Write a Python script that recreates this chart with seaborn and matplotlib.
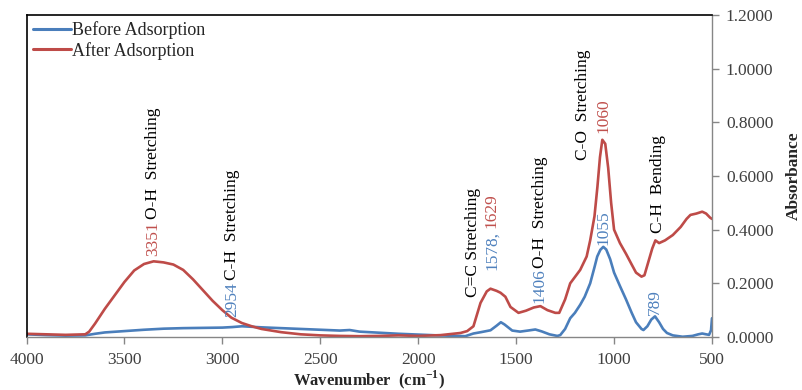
import matplotlib
matplotlib.use("Agg")
import matplotlib.pyplot as plt
import seaborn as sns
import pandas as pd
from matplotlib.ticker import FuncFormatter, FixedLocator

# ---------------- data ----------------
wn_before = [4000, 3900, 3800, 3700, 3650, 3600, 3500, 3400, 3300, 3200, 3100, 3000,
             2950, 2900, 2850, 2800, 2700, 2600, 2500, 2400, 2350, 2300, 2200, 2100,
             2000, 1900, 1800, 1760, 1718, 1680, 1631, 1600, 1578, 1560, 1520, 1480,
             1440, 1402, 1370, 1330, 1290, 1275, 1250, 1224, 1200, 1173, 1150, 1122,
             1100, 1086, 1070, 1055, 1040, 1020, 1000, 970, 939, 910, 888, 860, 850,
             830, 810, 791, 770, 750, 730, 700, 650, 600, 570, 550, 530, 515, 505, 500]
abs_before = [0.010, 0.007, 0.005, 0.006, 0.012, 0.017, 0.022, 0.027, 0.031, 0.033, 0.034, 0.035,
              0.037, 0.040, 0.038, 0.036, 0.033, 0.030, 0.027, 0.024, 0.026, 0.020, 0.016, 0.012,
              0.009, 0.006, 0.004, 0.003, 0.013, 0.018, 0.025, 0.042, 0.055, 0.047, 0.024, 0.020,
              0.024, 0.028, 0.021, 0.010, 0.004, 0.007, 0.030, 0.070, 0.090, 0.120, 0.150, 0.200,
              0.260, 0.300, 0.325, 0.336, 0.326, 0.290, 0.240, 0.190, 0.140, 0.090, 0.055, 0.030, 0.026,
              0.040, 0.065, 0.077, 0.055, 0.030, 0.015, 0.006, 0.001, 0.004, 0.010, 0.013, 0.010, 0.008, 0.025, 0.070]

wn_after = [4000, 3900, 3800, 3700, 3680, 3650, 3600, 3550, 3500, 3450, 3400, 3351, 3300,
            3250, 3200, 3150, 3100, 3050, 3000, 2954, 2900, 2850, 2800, 2700, 2600, 2500,
            2400, 2300, 2200, 2100, 2000, 1886, 1784, 1750, 1718, 1682, 1650, 1631, 1600,
            1580, 1555, 1529, 1488, 1450, 1410, 1376, 1340, 1300, 1280, 1250, 1224, 1173,
            1140, 1122, 1100, 1085, 1072, 1060, 1045, 1030, 1015, 1000, 970, 939, 910, 888,
            860, 845, 825, 805, 789, 770, 740, 700, 660, 630, 610, 580, 550, 530, 510, 500]
abs_after = [0.012, 0.010, 0.008, 0.010, 0.020, 0.050, 0.105, 0.155, 0.205, 0.248, 0.272, 0.282, 0.278,
             0.270, 0.250, 0.215, 0.175, 0.135, 0.100, 0.072, 0.052, 0.040, 0.030, 0.018, 0.010, 0.006,
             0.004, 0.003, 0.004, 0.006, 0.004, 0.007, 0.015, 0.022, 0.040, 0.127, 0.170, 0.180, 0.172,
             0.165, 0.150, 0.112, 0.090, 0.098, 0.110, 0.115, 0.100, 0.090, 0.090, 0.140, 0.200, 0.250,
             0.300, 0.360, 0.450, 0.560, 0.670, 0.735, 0.720, 0.630, 0.500, 0.400, 0.350, 0.310, 0.270, 0.240,
             0.225, 0.230, 0.280, 0.330, 0.360, 0.350, 0.360, 0.380, 0.410, 0.440, 0.455, 0.460, 0.467, 0.460, 0.445, 0.440]

series_names = ["Before Adsorption", "After Adsorption"]
x_ticks = [4000, 3500, 3000, 2500, 2000, 1500, 1000, 500]
y_ticks = [0.0, 0.2, 0.4, 0.6, 0.8, 1.0, 1.2]

# annotations: (wavenumber, y bottom, text, colour-key)
annotations = [
    (3355, 0.302, "3351", "red"), (3355, 0.440, "O-H  Stretching", "black"),
    (2951, 0.075, "2954", "blue"), (2951, 0.214, "C-H  Stretching", "black"),
    (1721, 0.149, "C=C Stretching", "black"),
    (1624, 0.250, "1578,", "blue"), (1624, 0.408, "1629", "red"),
    (1379, 0.127, "1406", "blue"), (1379, 0.257, "O-H  Stretching", "black"),
    (1159, 0.660, "C-O  Stretching", "black"),
    (1052, 0.760, "1060", "red"),
    (1052, 0.343, "1055", "blue"),
    (776, 0.388, "C-H  Bending", "black"),
    (792, 0.082, "789", "blue"),
]

# ---------------- styling ----------------
sns.set_style("white")
plt.rcParams["font.family"] = ["Liberation Serif", "DejaVu Serif"]
plt.rcParams["mathtext.fontset"] = "custom"
plt.rcParams["mathtext.rm"] = "Liberation Serif"
plt.rcParams["mathtext.bf"] = "Liberation Serif:bold"

line_blue = "#4A7EBB"
line_red = "#BE4B48"
text_colors = {"red": "#C0504D", "blue": "#4F81BD", "black": "#000000"}
grey = "#868686"

df = pd.concat([
    pd.DataFrame({"Wavenumber": wn_before, "Absorbance": abs_before, "Series": series_names[0]}),
    pd.DataFrame({"Wavenumber": wn_after, "Absorbance": abs_after, "Series": series_names[1]}),
], ignore_index=True)

fig = plt.figure(figsize=(8.02, 3.90), dpi=100)
ax = fig.add_axes([26.5 / 802, 1 - 337 / 390, 685.5 / 802, 322 / 390])

sns.lineplot(data=df, x="Wavenumber", y="Absorbance", hue="Series",
             palette=[line_blue, line_red], hue_order=series_names,
             estimator=None, linewidth=1.9, ax=ax)

ax.set_xlim(4000, 500)
ax.set_ylim(0, 1.2)
ax.xaxis.set_major_locator(FixedLocator(x_ticks))
ax.yaxis.set_major_locator(FixedLocator(y_ticks))
ax.yaxis.set_major_formatter(FuncFormatter(lambda v, p: f"{v:.4f}"))
ax.yaxis.tick_right()
ax.yaxis.set_label_position("right")

ax.tick_params(axis="x", which="major", direction="out", length=5, width=1, color=grey,
               labelsize=12.5, labelcolor="#404040", pad=6, bottom=True)
ax.tick_params(axis="y", which="major", direction="out", length=5, width=1, color=grey,
               labelsize=12.5, labelcolor="#404040", pad=5, right=True, left=False)

for side in ["top", "left"]:
    ax.spines[side].set_color("black")
    ax.spines[side].set_linewidth(1.2)
for side in ["bottom", "right"]:
    ax.spines[side].set_color(grey)
    ax.spines[side].set_linewidth(1.0)
    ax.spines[side].set_visible(True)

ax.set_xlabel(r"Wavenumber  (cm$^{\mathbf{-1}}$)", fontsize=12, fontweight="bold", labelpad=0)
ax.set_ylabel("Absorbance", fontsize=12.5, fontweight="bold", labelpad=9)

for xw, yb, txt, ck in annotations:
    ax.text(xw, yb, txt, rotation=90, ha="center", va="bottom",
            fontsize=12.5, color=text_colors[ck])

leg = ax.legend(loc="upper left", bbox_to_anchor=(0.009, 0.981), frameon=False,
                fontsize=13, handlelength=2.1, handletextpad=0.1, labelspacing=0.15,
                borderaxespad=0, borderpad=0)
for line in leg.get_lines():
    line.set_linewidth(2.2)

fig.savefig("out.png", dpi=100)
